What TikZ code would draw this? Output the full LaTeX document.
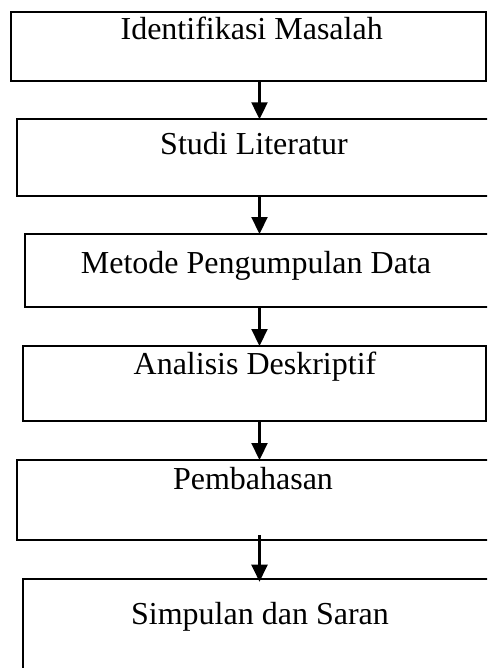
\documentclass[tikz,border=0pt]{standalone}
\usepackage{fontspec}
\setmainfont{Liberation Serif}
\usetikzlibrary{arrows.meta}
\begin{document}
\begin{tikzpicture}[x=1pt,y=-1pt,
  box/.style={draw=black, line width=2pt, rectangle, inner sep=0pt, outer sep=0pt, anchor=north west},
  lbl/.style={anchor=base, inner sep=0pt, font=\fontsize{32}{38}\selectfont},
  flow/.style={line width=2.2pt, -{Triangle[width=16pt,length=17pt]}}]
\useasboundingbox (0,0) rectangle (487,668);
\clip (0,0) rectangle (487,668);
\fill[white] (0,0) rectangle (487,668);
\node[box, minimum width=475pt, minimum height=69.3pt] (b1) at (11,12) {};
\node[box, minimum width=475.3pt, minimum height=76.4pt] (b2) at (16.7,119.3) {};
\node[box, minimum width=467pt, minimum height=72.7pt] (b3) at (25,234) {};
\node[box, minimum width=463pt, minimum height=75pt] (b4) at (23,346) {};
\node[box, minimum width=475.3pt, minimum height=80.3pt] (b5) at (16.7,460) {};
\node[box, minimum width=469.3pt, minimum height=93.3pt] (b6) at (22.7,578.7) {};
\node[lbl] (t1) at (251.7,39.3) {Identifikasi Masalah};
\node[lbl] (t2) at (254,155) {Studi Literatur};
\node[lbl] (t3) at (256,273) {Metode Pengumpulan Data};
\node[lbl] (t4) at (255,374.3) {Analisis Deskriptif};
\node[lbl] (t5) at (253,489) {Pembahasan};
\node[lbl] (t6) at (260,624) {Simpulan dan Saran};
\coordinate (ax) at (259.5,0);
\draw[flow] (b1.south -| ax) -- (b2.north -| ax);
\draw[flow] (b2.south -| ax) -- (b3.north -| ax);
\draw[flow] (b3.south -| ax) -- (b4.north -| ax);
\draw[flow] (b4.south -| ax) -- (b5.north -| ax);
\draw[flow] ([yshift=5pt]b5.south -| ax) -- ([yshift=-3pt]b6.north -| ax);
\end{tikzpicture}
\end{document}
